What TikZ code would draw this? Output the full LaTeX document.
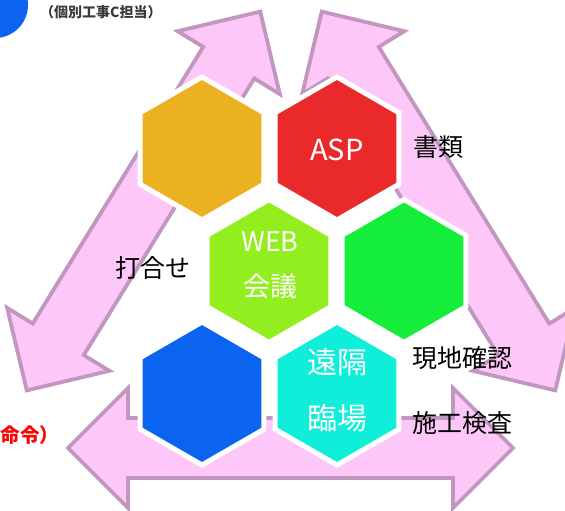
\documentclass[tikz,border=0pt]{standalone}
\usepackage{fontspec}
\newfontfamily\jp{Noto Sans CJK JP}
\usetikzlibrary{shapes.geometric}
\definecolor{pinkfill}{HTML}{FDC8F8}
\definecolor{pinkline}{HTML}{C196BF}
\definecolor{hexorange}{HTML}{EBB121}
\definecolor{hexred}{HTML}{EA2A2A}
\definecolor{hexlime}{HTML}{92EE1E}
\definecolor{hexgreen}{HTML}{14EE3A}
\definecolor{hexblue}{HTML}{0A64F0}
\definecolor{hexcyan}{HTML}{0EEED8}
\definecolor{notegray}{HTML}{3A3A3A}
\tikzset{
  dblarrow/.style={fill=pinkfill, draw=pinkline, line width=3.8pt, line join=miter},
  hexa/.style={regular polygon, regular polygon sides=6, shape border rotate=30,
    minimum size=143pt, inner sep=0pt, outer sep=0pt, draw=white, line width=5pt},
  whitetxt/.style={text=white, font=\jp\fontsize{29}{34}\selectfont, inner sep=0pt, align=center},
  label/.style={text=black, font=\jp\fontsize{25}{30}\selectfont, inner sep=0pt}
}
\begin{document}
\begin{tikzpicture}[x=1pt,y=-1pt]
\useasboundingbox (0,0) rectangle (565,511);
% arrows
\begin{scope}[shift={(143.5,201)}, rotate=58.35]
\draw[dblarrow] (-222.5,0) -- (-162.5,-60) -- (-162.5,-30) -- (162.5,-30) -- (162.5,-60) -- (222.5,0) -- (162.5,60) -- (162.5,30) -- (-162.5,30) -- (-162.5,60) -- cycle;
\end{scope}
\begin{scope}[shift={(438.5,201)}, rotate=-58.35]
\draw[dblarrow] (-222.5,0) -- (-162.5,-60) -- (-162.5,-30) -- (162.5,-30) -- (162.5,-60) -- (222.5,0) -- (162.5,60) -- (162.5,30) -- (-162.5,30) -- (-162.5,60) -- cycle;
\end{scope}
\begin{scope}[shift={(290.5,448)}]
\draw[dblarrow] (-222.5,0) -- (-162.5,-60) -- (-162.5,-30) -- (162.5,-30) -- (162.5,-60) -- (222.5,0) -- (162.5,60) -- (162.5,30) -- (-162.5,30) -- (-162.5,60) -- cycle;
\end{scope}
% blue circle top-left
\node[circle, fill=hexblue, minimum size=66pt, inner sep=0pt] (dot) at (-5,5) {};
% hexagons
\node[hexa, fill=hexorange] (ho) at (202,148.5) {};
\node[hexa, fill=hexred] (hr) at (337,148.5) {};
\node[hexa, fill=hexlime] (hl) at (269,271) {};
\node[hexa, fill=hexgreen] (hg) at (404,271) {};
\node[hexa, fill=hexblue] (hb) at (202,393.5) {};
\node[hexa, fill=hexcyan] (hc) at (337,393.5) {};
% hexagon texts
\node[whitetxt] (tasp) at (337,150) {ASP};
\node[whitetxt, font=\jp\fontsize{27}{45}\selectfont] (tweb) at (270,265.5) {WEB\\会議};
\node[whitetxt, font=\jp\fontsize{30}{56}\selectfont] (tcyan) at (337,390) {遠隔\\臨場};
% labels
\node[label, anchor=west] (lsho) at (413,147) {書類};
\node[label] (luchi) at (153,268) {打合せ};
\node[label, anchor=west] (lgen) at (412,358) {現地確認};
\node[label, anchor=west] (lsek) at (412,423) {施工検査};
% top note and red text
\node[anchor=west, text=notegray, font=\jp\bfseries\fontsize{14}{16}\selectfont, inner sep=0pt] (note) at (40,12) {（個別工事C担当）};
\node[anchor=west, text=red, font=\jp\bfseries\fontsize{19.5}{22}\selectfont, inner sep=0pt] (cmd) at (0.5,435) {命令）};
\end{tikzpicture}
\end{document}
